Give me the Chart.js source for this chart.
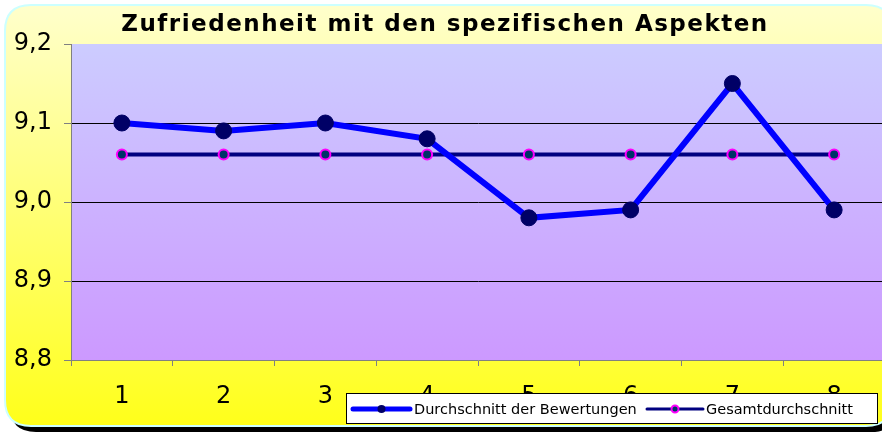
<!DOCTYPE html>
<html>
<head>
<meta charset="utf-8">
<script src="https://cdn.jsdelivr.net/npm/chart.js@4.4.1/dist/chart.umd.min.js"></script>
<style>
  html, body { margin: 0; padding: 0; background: #ffffff; overflow: hidden; }
  #wrap { width: 882px; height: 432px; overflow: hidden; }
</style>
</head>
<body>
<div id="wrap"><canvas id="chart" width="894" height="432"></canvas></div>
<script>
const titleText = 'Zufriedenheit mit den spezifischen Aspekten';
const categories = ['1', '2', '3', '4', '5', '6', '7', '8'];
const seriesNames = ['Durchschnitt der Bewertungen', 'Gesamtdurchschnitt'];
const ratingValues = [9.10, 9.09, 9.10, 9.08, 8.98, 8.99, 9.15, 8.99];
const overallValues = [9.06, 9.06, 9.06, 9.06, 9.06, 9.06, 9.06, 9.06];
const yTicks = [8.8, 8.9, 9.0, 9.1, 9.2];

const fmt = v => v.toFixed(1).replace('.', ',');

function roundRect(ctx, x, y, w, h, r) {
  ctx.beginPath();
  ctx.moveTo(x + r, y);
  ctx.lineTo(x + w - r, y);
  ctx.quadraticCurveTo(x + w, y, x + w, y + r);
  ctx.lineTo(x + w, y + h - r);
  ctx.quadraticCurveTo(x + w, y + h, x + w - r, y + h);
  ctx.lineTo(x + r, y + h);
  ctx.quadraticCurveTo(x, y + h, x, y + h - r);
  ctx.lineTo(x, y + r);
  ctx.quadraticCurveTo(x, y, x + r, y);
  ctx.closePath();
}

const backdrop = {
  id: 'backdrop',
  beforeDraw(chart) {
    const ctx = chart.ctx;
    const a = chart.chartArea;
    ctx.save();
    // shadow
    ctx.fillStyle = '#000000';
    roundRect(ctx, 10, 10, 887, 422, 26);
    ctx.fill();
    // yellow panel
    const g = ctx.createLinearGradient(0, 5, 0, 426);
    g.addColorStop(0, '#ffffcc');
    g.addColorStop(1, '#ffff1a');
    ctx.fillStyle = g;
    roundRect(ctx, 5, 5, 887, 421, 26);
    ctx.fill();
    ctx.lineWidth = 2;
    ctx.strokeStyle = '#ccffff';
    ctx.stroke();
    // plot area
    const pg = ctx.createLinearGradient(0, a.top, 0, a.bottom);
    pg.addColorStop(0, '#ccccff');
    pg.addColorStop(1, '#cc99ff');
    ctx.fillStyle = pg;
    ctx.fillRect(a.left, a.top, a.right - a.left, a.bottom - a.top);
    // title
    ctx.fillStyle = '#000000';
    ctx.font = 'bold 23px "DejaVu Sans"';
    ctx.letterSpacing = '1.5px';
    ctx.textAlign = 'center';
    ctx.textBaseline = 'middle';
    ctx.fillText(titleText, 445, 25);
    ctx.restore();
  },
  afterDraw(chart) {
    const ctx = chart.ctx;
    const ds = chart.data.datasets;
    ctx.save();
    // legend box
    ctx.fillStyle = '#ffffff';
    ctx.fillRect(346, 393, 531, 30);
    ctx.strokeStyle = '#000000';
    ctx.lineWidth = 1;
    ctx.strokeRect(346.5, 393.5, 531, 30);
    ctx.font = '14.5px "DejaVu Sans"';
    ctx.textBaseline = 'middle';
    ctx.textAlign = 'left';
    const items = [
      { x0: 353, x1: 410, tx: 414 },
      { x0: 647, x1: 703, tx: 706 }
    ];
    items.forEach((it, i) => {
      const d = ds[i];
      const y = 409;
      ctx.strokeStyle = d.borderColor;
      ctx.lineWidth = i === 0 ? 5 : 3;
      ctx.lineCap = 'round';
      ctx.beginPath();
      ctx.moveTo(it.x0, y);
      ctx.lineTo(it.x1, y);
      ctx.stroke();
      const cx = (it.x0 + it.x1) / 2;
      ctx.beginPath();
      ctx.arc(cx, y, i === 0 ? 4 : 3.5, 0, Math.PI * 2);
      ctx.fillStyle = d.pointBackgroundColor;
      ctx.fill();
      if (i === 1) {
        ctx.lineWidth = 2;
        ctx.strokeStyle = d.pointBorderColor;
        ctx.stroke();
      }
      ctx.fillStyle = '#000000';
      ctx.fillText(d.label, it.tx, y + 1);
    });
    ctx.restore();
  }
};

new Chart(document.getElementById('chart'), {
  type: 'line',
  data: {
    labels: categories,
    datasets: [
      {
        label: seriesNames[0],
        data: ratingValues,
        borderColor: '#0000ff',
        borderWidth: 6,
        pointRadius: 8,
        pointBackgroundColor: '#000066',
        pointBorderColor: '#000066',
        pointBorderWidth: 1,
        tension: 0,
        order: 1
      },
      {
        label: seriesNames[1],
        data: overallValues,
        borderColor: '#000080',
        borderWidth: 4,
        pointRadius: 5,
        pointBackgroundColor: '#003366',
        pointBorderColor: '#ff00ff',
        pointBorderWidth: 2,
        tension: 0,
        order: 2
      }
    ]
  },
  plugins: [backdrop],
  options: {
    responsive: false,
    animation: false,
    layout: { padding: { left: 0, right: 0, top: 44, bottom: 0 } },
    plugins: {
      legend: { display: false },
      title: { display: false },
      tooltip: { enabled: false }
    },
    scales: {
      x: {
        offset: true,
        grid: {
          offset: true,
          drawOnChartArea: false,
          tickLength: 6,
          tickColor: '#808080'
        },
        border: { color: '#808080', width: 1 },
        ticks: {
          color: '#000000',
          font: { family: 'DejaVu Sans', size: 24 },
          padding: 16
        },
        afterFit(scale) { scale.height = 72; }
      },
      y: {
        min: 8.8,
        max: 9.2,
        afterBuildTicks(scale) { scale.ticks = yTicks.map(v => ({ value: v })); },
        grid: {
          color: c => (c.index === 0 || c.index === yTicks.length - 1) ? 'rgba(0,0,0,0)' : '#000000',
          lineWidth: 1,
          tickLength: 7,
          tickColor: '#808080'
        },
        border: { color: '#808080', width: 1 },
        ticks: {
          color: '#000000',
          font: { family: 'DejaVu Sans', size: 24 },
          padding: 12,
          callback: v => fmt(v)
        },
        afterFit(scale) { scale.width = 71; }
      }
    }
  }
});
</script>
</body>
</html>
